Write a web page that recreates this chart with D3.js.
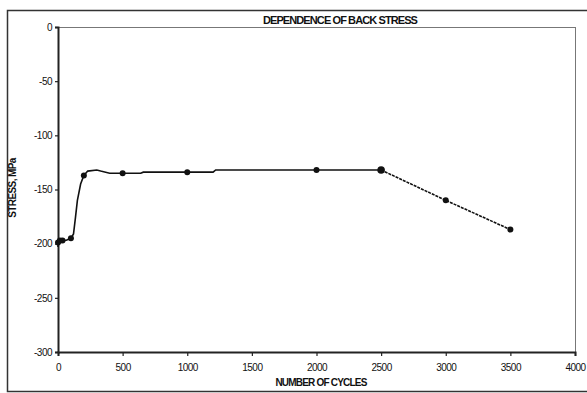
<!DOCTYPE html>
<html>
<head>
<meta charset="utf-8">
<script src="https://cdn.jsdelivr.net/npm/d3@7"></script>
<style>
  body { margin: 0; background: #fff; }
  text { font-family: "Liberation Sans Narrow", "Liberation Sans", Arial, sans-serif; fill: #111; }
</style>
</head>
<body>
<svg id="chart" width="587" height="393"></svg>
<script>
// markers (cycles, MPa)
var markerCycles = [0, 15, 35, 100, 200, 500, 1000, 2000, 2500, 3000, 3500];
var markerStress = [-199, -197, -197, -195, -137, -135, -134, -132, -132, -160, -187];
var markerSize   = [3, 3, 3, 3, 3, 3, 3, 3, 3.8, 3, 3];

// traced curve through the markers (solid part)
var curveCycles = [0, 0, 30, 60, 100, 120, 135, 150, 175, 200, 230, 300, 330, 400, 500, 640, 660, 1000, 1200, 1220, 2000, 2500];
var curveStress = [-203, -198, -196, -197, -195, -191, -176, -160, -145, -137, -133, -132, -133, -135, -135, -135, -134, -134, -134, -132, -132, -132];
// dashed tail
var tailCycles = [2500, 3000, 3500];
var tailStress = [-132, -160, -187];

var xTicks = [0, 500, 1000, 1500, 2000, 2500, 3000, 3500, 4000];
var yTicks = [0, -50, -100, -150, -200, -250, -300];

var svg = d3.select("#chart");
var dims = { left: 58, right: 575, top: 27, bottom: 352 };

var x = d3.scaleLinear().domain([0, 4000]).range([dims.left, dims.right]);
var y = d3.scaleLinear().domain([-300, 0]).range([dims.bottom, dims.top]);

// outer frame
svg.append("rect").attr("x", 7.5).attr("y", 10.5).attr("width", 590).attr("height", 381)
    .attr("fill", "none").attr("stroke", "#333").attr("stroke-width", 1.5);

// plot box, top and right are thin grey
svg.append("line").attr("x1", dims.left).attr("x2", dims.right).attr("y1", dims.top + 0.5).attr("y2", dims.top + 0.5)
    .attr("stroke", "#777").attr("stroke-width", 1);
svg.append("line").attr("x1", dims.right + 0.5).attr("x2", dims.right + 0.5).attr("y1", dims.top).attr("y2", dims.bottom)
    .attr("stroke", "#777").attr("stroke-width", 1);

// axes, plain hyphen for the minus sign as in the scan
var fmt = function (d) { return String(d); };
var xAxis = d3.axisBottom(x).tickValues(xTicks).tickSize(4).tickPadding(8).tickFormat(fmt);
var yAxis = d3.axisLeft(y).tickValues(yTicks).tickSize(3).tickPadding(3).tickFormat(fmt);

var gx = svg.append("g").attr("transform", "translate(0," + dims.bottom + ")").call(xAxis);
var gy = svg.append("g").attr("transform", "translate(" + dims.left + ",0)").call(yAxis);
[gx, gy].forEach(function (g) {
    g.select(".domain").attr("stroke", "#222").attr("stroke-width", 2);
    g.selectAll(".tick line").attr("stroke", "#222").attr("stroke-width", 1.2);
    g.selectAll(".tick text").attr("font-size", 10).attr("fill", "#111")
        .style("font-family", "'Liberation Sans Narrow', 'Liberation Sans', Arial, sans-serif")
        .attr("letter-spacing", -0.5);
});

// curve
var line = d3.line().x(function (d) { return x(d[0]); }).y(function (d) { return y(d[1]); });
svg.append("path")
    .datum(d3.zip(curveCycles, curveStress))
    .attr("d", line).attr("fill", "none").attr("stroke", "#111").attr("stroke-width", 1.6);
svg.append("path")
    .datum(d3.zip(tailCycles, tailStress))
    .attr("d", line).attr("fill", "none").attr("stroke", "#111").attr("stroke-width", 1.6)
    .attr("stroke-dasharray", "3,1");

svg.append("g").selectAll("circle")
    .data(d3.zip(markerCycles, markerStress, markerSize))
    .enter().append("circle")
    .attr("cx", function (d) { return x(d[0]); })
    .attr("cy", function (d) { return y(d[1]); })
    .attr("r", function (d) { return d[2]; })
    .attr("fill", "#111");

// titles
svg.append("text").attr("x", 340).attr("y", 24).attr("text-anchor", "middle")
    .attr("font-size", 11).attr("font-weight", "bold").attr("letter-spacing", -0.9)
    .text("DEPENDENCE OF BACK STRESS");
svg.append("text").attr("x", 321).attr("y", 386).attr("text-anchor", "middle")
    .attr("font-size", 10).attr("font-weight", "bold").attr("letter-spacing", -0.8)
    .text("NUMBER OF CYCLES");
svg.append("text").attr("transform", "translate(16,188) rotate(-90)").attr("text-anchor", "middle")
    .attr("font-size", 10).attr("font-weight", "bold").attr("letter-spacing", -0.6)
    .text("STRESS, MPa");
</script>
</body>
</html>
